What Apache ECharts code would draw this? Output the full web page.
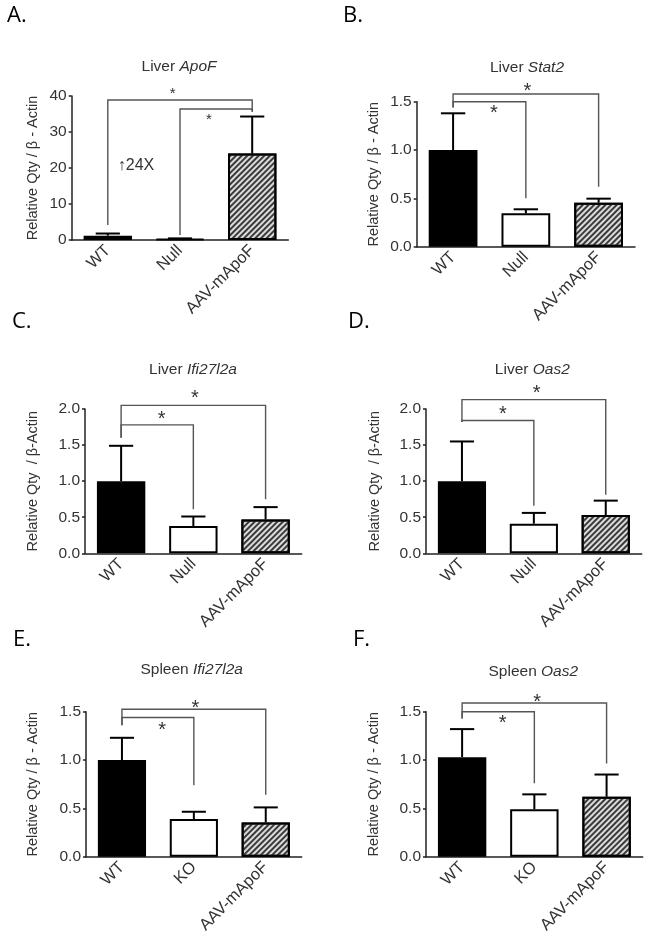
<!DOCTYPE html>
<html><head><meta charset="utf-8">
<script src="https://cdn.jsdelivr.net/npm/echarts@6/dist/echarts.min.js"></script>
<style>html,body{margin:0;padding:0;background:#fff}#c{width:649px;height:941px}</style>
</head><body><div id="c"></div>
<script>
// ---------- data ----------
const liverCats = ['WT', 'Null', 'AAV-mApoF'];
const spleenCats = ['WT', 'KO', 'AAV-mApoF'];

// bar means and upper error-bar ends
const meanA = [1.2, 0.3, 24.0];
const errA  = [1.8, 0.45, 34.3];
const meanB = [1.0, 0.345, 0.455];
const errB  = [1.38, 0.387, 0.497];
const meanC = [1.0, 0.378, 0.47];
const errC  = [1.49, 0.51, 0.64];
const meanD = [1.0, 0.41, 0.53];
const errD  = [1.55, 0.56, 0.73];
const meanE = [1.0, 0.39, 0.355];
const errE  = [1.23, 0.465, 0.51];
const meanF = [1.03, 0.49, 0.62];
const errF  = [1.32, 0.645, 0.85];

// y-axis tick values
const ticksA = [0, 10, 20, 30, 40];
const ticksB = [0, 0.5, 1.0, 1.5];
const ticksC = [0, 0.5, 1.0, 1.5, 2.0];
const ticksD = [0, 0.5, 1.0, 1.5, 2.0];
const ticksE = [0, 0.5, 1.0, 1.5];
const ticksF = [0, 0.5, 1.0, 1.5];

// significance brackets: [fromCat, toCat, yLine, yLeftEnd, yRightEnd]
const bracketsA = [[0, 2, 38.9, 4.2, 35.6], [1, 2, 36.4, 1.4, 35.6]];
const bracketsB = [[0, 2, 1.58, 1.44, 0.62], [0, 1, 1.5, 1.44, 0.5]];
const bracketsC = [[0, 2, 2.05, 1.6, 0.75], [0, 1, 1.78, 1.6, 0.61]];
const bracketsD = [[0, 2, 2.13, 1.82, 0.81], [0, 1, 1.84, 1.82, 0.66]];
const bracketsE = [[0, 2, 1.525, 1.36, 0.64], [0, 1, 1.44, 1.36, 0.74]];
const bracketsF = [[0, 2, 1.59, 1.43, 0.965], [0, 1, 1.5, 1.43, 0.76]];

// stars: [fromCat, toCat, fraction between, y]
const starsA = [[0, 2, 0.45, 41.4], [1, 2, 0.4, 34.4]];
const starsB = [[0, 2, 0.51, 1.65], [0, 1, 0.56, 1.42]];
const starsC = [[0, 2, 0.51, 2.21], [0, 1, 0.56, 1.92]];
const starsD = [[0, 2, 0.52, 2.27], [0, 1, 0.57, 1.99]];
const starsE = [[0, 2, 0.51, 1.575], [0, 1, 0.56, 1.355]];
const starsF = [[0, 2, 0.52, 1.645], [0, 1, 0.56, 1.424]];

const annotA = [[0, 20.8, '↑24X']];

const panelLetters = ['A.', 'B.', 'C.', 'D.', 'E.', 'F.'];
const titleTissue = ['Liver ', 'Liver ', 'Liver ', 'Liver ', 'Spleen ', 'Spleen '];
const titleGene = ['ApoF', 'Stat2', 'Ifi27l2a', 'Oas2', 'Ifi27l2a', 'Oas2'];
const yNames = ['Relative Qty / β - Actin', 'Relative Qty / β - Actin', 'Relative Qty  / β-Actin',
                'Relative Qty  / β-Actin', 'Relative Qty / β - Actin', 'Relative Qty / β - Actin'];

// ---------- layout ----------
const FONT = 'Liberation Sans, Arial, sans-serif';
const panels = [
  {cats: liverCats, mean: meanA, err: errA, ticks: ticksA, br: bracketsA, st: starsA, dec: 0,
   grid: {left: 71.7, top: 96, width: 216.6, height: 144}, nameGap: 31, starSize: 15,
   letterPos: [7, 16], titlePos: [179, 67]},
  {cats: liverCats, mean: meanB, err: errB, ticks: ticksB, br: bracketsB, st: starsB, dec: 1,
   grid: {left: 416.7, top: 101.7, width: 218.3, height: 145}, nameGap: 35, starSize: 20,
   letterPos: [343, 16], titlePos: [527, 67.7]},
  {cats: liverCats, mean: meanC, err: errC, ticks: ticksC, br: bracketsC, st: starsC, dec: 1,
   grid: {left: 85, top: 409, width: 216.7, height: 144.3}, nameGap: 45, starSize: 20,
   letterPos: [12, 321.7], titlePos: [193, 370]},
  {cats: liverCats, mean: meanD, err: errD, ticks: ticksD, br: bracketsD, st: starsD, dec: 1,
   grid: {left: 426, top: 409, width: 215.7, height: 144.3}, nameGap: 44, starSize: 20,
   letterPos: [348, 321.7], titlePos: [532.3, 370]},
  {cats: spleenCats, mean: meanE, err: errE, ticks: ticksE, br: bracketsE, st: starsE, dec: 1,
   grid: {left: 86, top: 711.7, width: 215.7, height: 145}, nameGap: 46, starSize: 20,
   letterPos: [13, 640], titlePos: [191.7, 670]},
  {cats: spleenCats, mean: meanF, err: errF, ticks: ticksF, br: bracketsF, st: starsF, dec: 1,
   grid: {left: 426, top: 711.7, width: 216.7, height: 145}, nameGap: 45, starSize: 20,
   letterPos: [353, 640], titlePos: [533.3, 671.7]}
];

const BAR_FRAC = 0.67;
const barStyles = [
  {color: '#000'},
  {color: '#fff'},
  {color: '#dcdcdc', decal: {symbol: 'rect', symbolSize: 1, dashArrayX: [1, 0], dashArrayY: [1.1, 1.3],
    rotation: -Math.PI / 4, color: '#3a3a3a'}}
];

const grids = [], xAxes = [], yAxes = [], series = [], graphics = [];

panels.forEach((p, k) => {
  grids.push(Object.assign({containLabel: false}, p.grid));
  const t = p.ticks;
  xAxes.push({
    type: 'category', gridIndex: k, data: p.cats,
    axisLine: {lineStyle: {color: '#222', width: 1.5}},
    axisTick: {alignWithLabel: true, length: 4, lineStyle: {color: '#222', width: 1.5}},
    axisLabel: {rotate: 45, fontSize: 16.5, margin: 8, color: '#333', interval: 0, fontFamily: FONT}
  });
  yAxes.push({
    type: 'value', gridIndex: k, min: t[0], max: t[t.length - 1], interval: t[1] - t[0],
    name: yNames[k], nameLocation: 'middle', nameRotate: 90, nameGap: p.nameGap,
    nameTextStyle: {fontSize: 14.5, color: '#333', fontFamily: FONT},
    axisLine: {show: true, lineStyle: {color: '#222', width: 1.5}},
    axisTick: {show: true, length: 3, lineStyle: {color: '#222', width: 1.5}},
    splitLine: {show: false},
    axisLabel: {fontSize: 15.5, margin: 5, color: '#333', fontFamily: FONT,
      formatter: v => v.toFixed(p.dec)}
  });
  series.push({
    type: 'bar', xAxisIndex: k, yAxisIndex: k, barWidth: (BAR_FRAC * 100) + '%', silent: true,
    itemStyle: {borderColor: '#000', borderWidth: 2},
    data: p.mean.map((v, i) => ({value: v, itemStyle: barStyles[i]}))
  });
  series.push({
    type: 'custom', xAxisIndex: k, yAxisIndex: k, silent: true,
    data: p.mean.map((m, i) => [i, m, p.err[i]]),
    encode: {x: 0, y: [1, 2]},
    renderItem: (params, api) => {
      const i = api.value(0);
      const p0 = api.coord([i, api.value(1)]);
      const p1 = api.coord([i, api.value(2)]);
      const hw = api.size([1, 0])[0] * BAR_FRAC * 0.25;
      return {type: 'group', children: [
        {type: 'line', shape: {x1: p0[0], y1: p0[1], x2: p1[0], y2: p1[1]}, style: {stroke: '#000', lineWidth: 2}},
        {type: 'line', shape: {x1: p1[0] - hw, y1: p1[1], x2: p1[0] + hw, y2: p1[1]}, style: {stroke: '#000', lineWidth: 2}}
      ]};
    }
  });
  series.push({
    type: 'custom', xAxisIndex: k, yAxisIndex: k, silent: true,
    data: p.br, encode: {x: [0, 1], y: [2, 3, 4]},
    renderItem: (params, api) => {
      const i = api.value(0), j = api.value(1), y = api.value(2);
      const a = api.coord([i, api.value(3)]), b = api.coord([i, y]);
      const c = api.coord([j, y]), d = api.coord([j, api.value(4)]);
      return {type: 'polyline', shape: {points: [a, b, c, d]},
        style: {stroke: '#555', lineWidth: 1.4, fill: null}};
    }
  });
  series.push({
    type: 'custom', xAxisIndex: k, yAxisIndex: k, silent: true,
    data: p.st, encode: {x: [0, 1], y: 3},
    renderItem: (params, api) => {
      const i = api.value(0), j = api.value(1), f = api.value(2), y = api.value(3);
      const a = api.coord([i, y]), b = api.coord([j, y]);
      const fs = p.starSize;
      return {type: 'text', x: a[0] + (b[0] - a[0]) * f, y: a[1] + fs * 0.22,
        style: {text: '*', fontSize: fs, fontFamily: FONT, fill: '#333', align: 'center', verticalAlign: 'middle'}};
    }
  });
  graphics.push({type: 'text', x: p.letterPos[0], y: p.letterPos[1],
    style: {text: panelLetters[k], font: '22px "Open Sans", sans-serif', fill: '#000', verticalAlign: 'middle', align: 'left'}});
  graphics.push({type: 'text', x: p.titlePos[0], y: p.titlePos[1],
    style: {text: '{n|' + titleTissue[k] + '}{i|' + titleGene[k] + '}', align: 'center', verticalAlign: 'middle',
      rich: {n: {fontSize: 15.5, fontFamily: FONT, fill: '#333', color: '#333'},
             i: {fontSize: 15.5, fontFamily: FONT, fontStyle: 'italic', fill: '#333', color: '#333'}}}});
});

series.push({
  type: 'custom', xAxisIndex: 0, yAxisIndex: 0, silent: true,
  data: annotA, encode: {x: 0, y: 1},
  renderItem: (params, api) => {
    const pt = api.coord([api.value(0), api.value(1)]);
    return {type: 'text', x: pt[0] + 10, y: pt[1],
      style: {text: annotA[params.dataIndex][2], fontSize: 16, fontFamily: FONT, fill: '#333', align: 'left', verticalAlign: 'middle'}};
  }
});

const chart = echarts.init(document.getElementById('c'), null, {renderer: 'canvas'});
chart.setOption({
  animation: false,
  backgroundColor: '#fff',
  textStyle: {fontFamily: FONT},
  grid: grids, xAxis: xAxes, yAxis: yAxes, series: series, graphic: graphics
});
</script></body></html>
